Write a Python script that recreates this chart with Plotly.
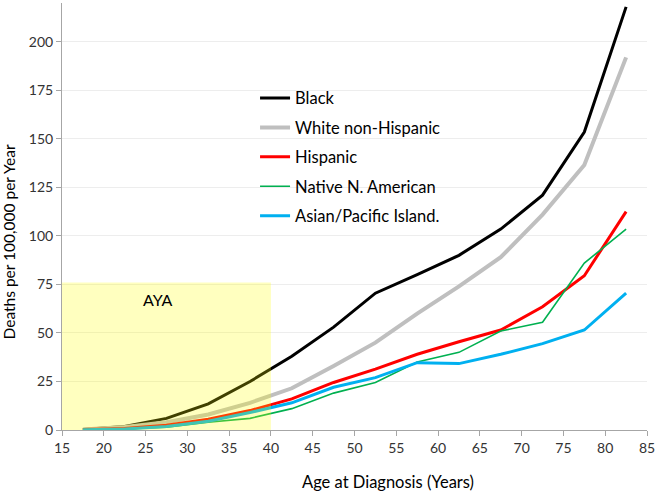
import plotly.graph_objects as go

ages = [17.5, 22.5, 27.5, 32.5, 37.5, 42.5, 47.5, 52.5, 57.5, 62.5, 67.5, 72.5, 77.5, 82.5]

black = [0.3, 1.8, 6, 13.5, 25, 38, 53, 70.5, 80, 90, 103.5, 121, 153.5, 218]
white = [0.3, 1.5, 4, 8, 14, 21.5, 33, 45, 60, 74, 89, 111, 136.5, 192]
hispanic = [0.2, 0.8, 2.5, 5.5, 10, 16, 24.5, 31.4, 39, 45.5, 51.5, 63.5, 79.5, 112.5]
native = [0.1, 0.5, 1.5, 4, 6, 11, 19, 24.5, 35, 40, 51, 55.5, 86, 103.5]
asian = [0.1, 0.5, 1.8, 4.5, 9, 14, 22, 27, 34.7, 34.2, 39, 44.5, 51.5, 70.5]

names = ["Black", "White non-Hispanic", "Hispanic", "Native N. American", "Asian/Pacific Island."]
colours = ["#000000", "#BFBFBF", "#FF0000", "#00B050", "#00B0F0"]
widths = [3, 4, 3, 1.6, 3]

fig = go.Figure()
for name, vals, col, w in zip(names, [black, white, hispanic, native, asian], colours, widths):
    fig.add_trace(go.Scatter(x=ages, y=vals, name=name, mode="lines",
                             line=dict(color=col, width=w), legendgroup=name))

# AYA shaded box, drawn over the lines like the original
fig.add_shape(type="rect", x0=15, x1=40, y0=0, y1=76, layer="above",
              fillcolor="rgba(255,255,0,0.25)", line_width=0)
fig.add_annotation(x=26.5, y=67, text="AYA", showarrow=False,
                   font=dict(size=16, color="#000000"))

# axis titles as annotations, the original ones sit off-centre
fig.add_annotation(xref="paper", yref="paper", x=0.557, y=-0.122, text="Age at Diagnosis (Years)",
                   showarrow=False, xanchor="center", yanchor="middle", font=dict(size=16.5))
fig.add_annotation(xref="paper", yref="paper", x=-0.09, y=0.44, text="Deaths per 100,000 per Year",
                   showarrow=False, xanchor="center", yanchor="middle", textangle=-90,
                   font=dict(size=15.5))

axis_font = dict(family="Lato, Open Sans, sans-serif", size=14, color="#333333")
fig.update_xaxes(range=[15, 85], dtick=5, tick0=15, showgrid=False, automargin=False,
                 showline=True, linecolor="#A6A6A6", ticks="outside", ticklen=5,
                 tickcolor="#A6A6A6", tickfont=axis_font)
fig.update_yaxes(range=[0, 220], dtick=25, showgrid=True, gridcolor="#EDEDED", automargin=False,
                 showline=True, linecolor="#A6A6A6", ticks="outside", ticklen=5,
                 tickcolor="#A6A6A6", tickfont=axis_font, zeroline=False)

fig.update_layout(
    width=656, height=491,
    margin=dict(l=62, r=9, t=3, b=61),
    plot_bgcolor="white", paper_bgcolor="white",
    font=dict(family="Lato, Open Sans, sans-serif", color="#000000"),
    legend=dict(x=0.33, y=0.818, xanchor="left", yanchor="top", itemwidth=30,
                font=dict(size=16.5), tracegroupgap=5, bgcolor="rgba(0,0,0,0)"),
)

# page body has a default 8px margin; drop it so the figure sits at the window corner
fig.write_html("out.html", config={"displayModeBar": False},
               post_script="document.body.style.margin='0';")
